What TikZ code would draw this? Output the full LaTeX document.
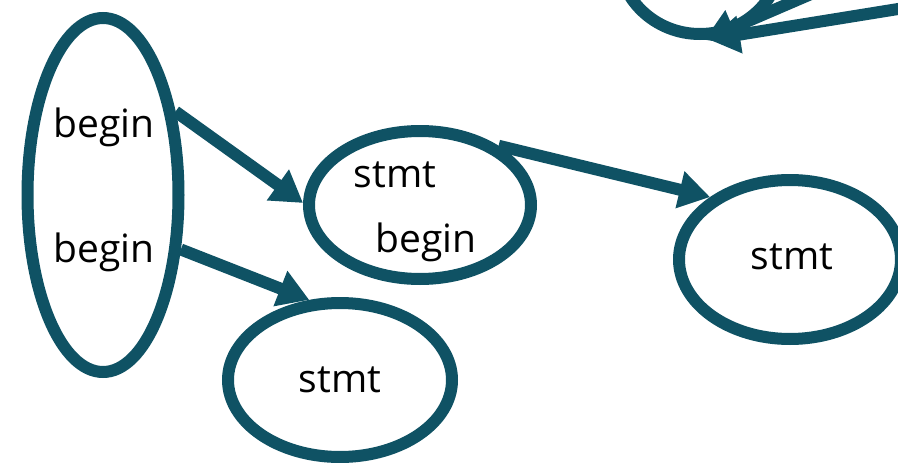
\documentclass[tikz,border=0pt]{standalone}
\usepackage{fontspec}
\setmainfont{Open Sans}
\usetikzlibrary{shapes.geometric,arrows.meta}
\definecolor{teal}{RGB}{15,82,100}
\tikzset{
  oval/.style={ellipse, draw=teal, line width=12pt, inner sep=0pt, fill=none},
  lbl/.style={font=\fontsize{39}{44}\selectfont, text=black, inner sep=0pt, anchor=base},
  conn/.style={draw=teal, line width=12pt, -{Triangle[length=31pt,width=36pt]}}
}
\begin{document}
\begin{tikzpicture}[x=1pt,y=-1pt]
\useasboundingbox (0,0) rectangle (898,463);
% ellipses
\node[oval, minimum width=151pt, minimum height=354pt] (L) at (103,195) {};
\node[oval, minimum width=222pt, minimum height=148pt] (M) at (420,205) {};
\node[oval, minimum width=222pt, minimum height=159pt] (R) at (790,259.5) {};
\node[oval, minimum width=224pt, minimum height=154pt] (B) at (340,380) {};
\node[oval, minimum width=164pt, minimum height=158pt] (T) at (700,-45) {};
% labels
\node[lbl] (l1) at (104,137) {begin};
\node[lbl] (l2) at (104,262) {begin};
\node[lbl] (m1) at (395,187) {stmt};
\node[lbl] (m2) at (426,252) {begin};
\node[lbl] (r1) at (792,269) {stmt};
\node[lbl] (b1) at (340,392) {stmt};
% free ends
\coordinate (fa) at (890,-40);
\coordinate (fb) at (960,-1);
% connectors
\draw[conn] (L.49.6) -- (M.179);
\draw[conn] (L.-35) -- (B.111.5);
\draw[conn] (M.37.8) -- (R.142);
\draw[conn] (fa) -- (T.-87);
\draw[conn] (fb) -- (T.-84);
\end{tikzpicture}
\end{document}
